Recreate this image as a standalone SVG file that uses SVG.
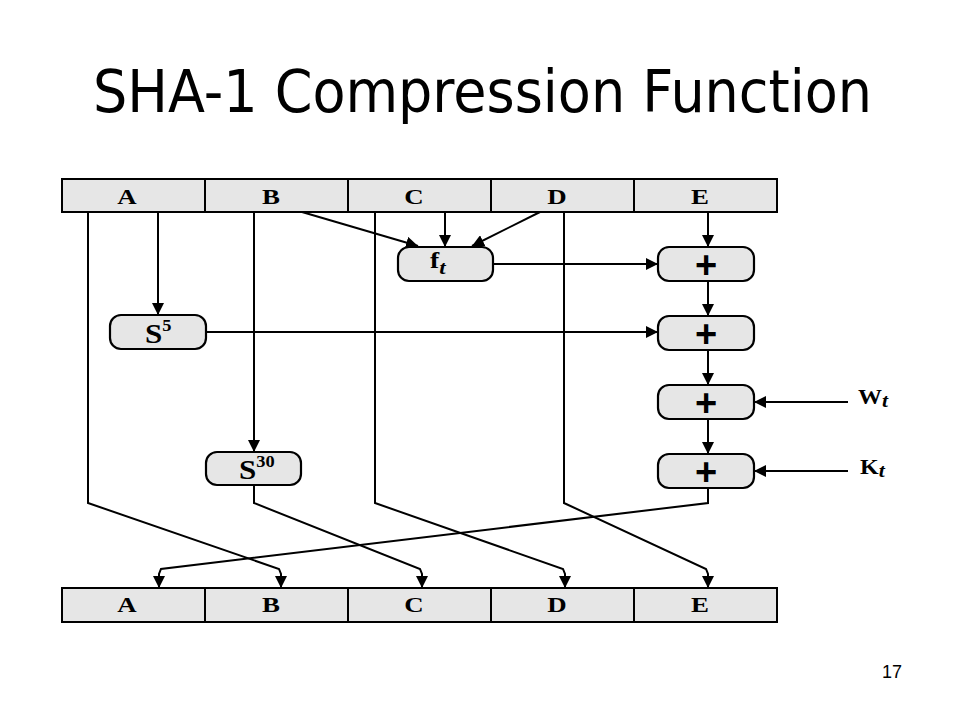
<svg xmlns="http://www.w3.org/2000/svg" width="960" height="720" viewBox="0 0 960 720">
<defs>
<marker id="ah" viewBox="0 0 12 12" refX="12" refY="6" markerWidth="12" markerHeight="12" markerUnits="userSpaceOnUse" orient="auto">
<path d="M0,0 L12,6 L0,12 Z" fill="#000"/>
</marker>
<style>
.cell{fill:#e6e6e6;stroke:#000;stroke-width:2}
.box{fill:#e6e6e6;stroke:#000;stroke-width:2.2}
.lbl{font-family:"Liberation Serif",serif;font-weight:bold;font-size:21px;fill:#000;text-anchor:middle}
.op{font-family:"Liberation Serif",serif;font-weight:bold;fill:#000}
.plus{font-family:"Liberation Sans",sans-serif;font-weight:bold;font-size:38px;fill:#000;text-anchor:middle}
.sub{font-style:italic}
.ln{fill:none;stroke:#000;stroke-width:2;marker-end:url(#ah)}
</style>
</defs>
<rect width="960" height="720" fill="#fff"/>
<text x="93" y="112" font-family="'DejaVu Sans',sans-serif" font-size="58" textLength="779" lengthAdjust="spacingAndGlyphs">SHA-1 Compression Function</text>
<g id="top-row">
<rect class="cell" x="62" y="179" width="143" height="33"/>
<rect class="cell" x="205" y="179" width="143" height="33"/>
<rect class="cell" x="348" y="179" width="143" height="33"/>
<rect class="cell" x="491" y="179" width="143" height="33"/>
<rect class="cell" x="634" y="179" width="143" height="33"/>
<text class="lbl" transform="translate(127,204) scale(1.28,1)">A</text>
<text class="lbl" transform="translate(271,204) scale(1.28,1)">B</text>
<text class="lbl" transform="translate(414,204) scale(1.28,1)">C</text>
<text class="lbl" transform="translate(557,204) scale(1.28,1)">D</text>
<text class="lbl" transform="translate(700,204) scale(1.28,1)">E</text>
</g>
<g id="bottom-row">
<rect class="cell" x="62" y="588" width="143" height="34"/>
<rect class="cell" x="205" y="588" width="143" height="34"/>
<rect class="cell" x="348" y="588" width="143" height="34"/>
<rect class="cell" x="491" y="588" width="143" height="34"/>
<rect class="cell" x="634" y="588" width="143" height="34"/>
<text class="lbl" transform="translate(127,612) scale(1.28,1)">A</text>
<text class="lbl" transform="translate(271,612) scale(1.28,1)">B</text>
<text class="lbl" transform="translate(414,612) scale(1.28,1)">C</text>
<text class="lbl" transform="translate(557,612) scale(1.28,1)">D</text>
<text class="lbl" transform="translate(700,612) scale(1.28,1)">E</text>
</g>
<g id="ft">
<rect class="box" x="398" y="247" width="95" height="34" rx="11"/>
<text class="op" transform="translate(430,268) scale(1.2,1)" font-size="23">f<tspan class="sub" font-size="19" dy="6">t</tspan></text>
</g>
<g id="s5">
<rect class="box" x="110" y="315" width="96" height="34" rx="11"/>
<text class="op" transform="translate(145,343) scale(1.15,1)" font-size="27">S<tspan font-size="16" dy="-12">5</tspan></text>
</g>
<g id="s30">
<rect class="box" x="206" y="452" width="95" height="33" rx="11"/>
<text class="op" transform="translate(239,479) scale(1.15,1)" font-size="27">S<tspan font-size="16" dy="-12">30</tspan></text>
</g>
<g id="add1">
<rect class="box" x="658" y="247" width="96" height="34" rx="11"/>
<text class="plus" x="706" y="278">+</text>
</g>
<g id="add2">
<rect class="box" x="658" y="316" width="96" height="34" rx="11"/>
<text class="plus" x="706" y="347">+</text>
</g>
<g id="add3">
<rect class="box" x="658" y="385" width="96" height="34" rx="11"/>
<text class="plus" x="706" y="416">+</text>
</g>
<g id="add4">
<rect class="box" x="658" y="454" width="96" height="34" rx="11"/>
<text class="plus" x="706" y="485">+</text>
</g>
<g id="wt">
<text class="op" transform="translate(858,404) scale(1.2,1)" font-size="20">W<tspan class="sub" font-size="18" dy="3">t</tspan></text>
</g>
<g id="kt">
<text class="op" transform="translate(860,474) scale(1.2,1)" font-size="20">K<tspan class="sub" font-size="18" dy="3">t</tspan></text>
</g>
<g id="connectors">
<path class="ln" d="M158,212 V315"/>
<path class="ln" d="M254,212 V452"/>
<path class="ln" d="M302,212 L418,246"/>
<path class="ln" d="M445,212 V247"/>
<path class="ln" d="M540,212 L472,246"/>
<path class="ln" d="M708,212 V247"/>
<path class="ln" d="M493,264 H658"/>
<path class="ln" d="M708,281 V316"/>
<path class="ln" d="M206,332 H658"/>
<path class="ln" d="M708,350 V385"/>
<path class="ln" d="M708,419 V454"/>
<path class="ln" d="M848,402 H754"/>
<path class="ln" d="M848,471 H754"/>
<path class="ln" d="M88,212 V503 L279,569 L281,574 V588"/>
<path class="ln" d="M254,485 V503 L420,569 L422,574 V588"/>
<path class="ln" d="M375,212 V503 L563,569 L565,574 V588"/>
<path class="ln" d="M564,212 V503 L706,569 L708,574 V588"/>
<path class="ln" d="M708,488 V503 L161,569 L159,574 V588"/>
</g>
<text x="882" y="678" font-family="'Liberation Sans',sans-serif" font-size="18">17</text>
</svg>
